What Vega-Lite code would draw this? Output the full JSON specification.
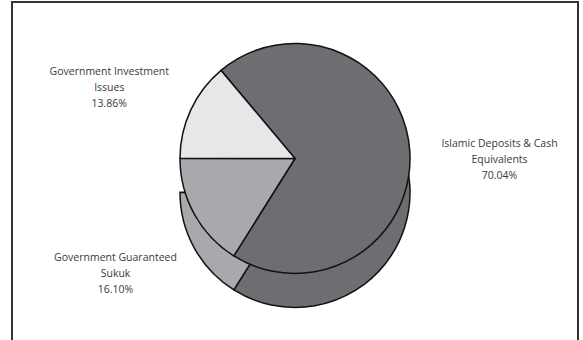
{
  "$schema": "https://vega.github.io/schema/vega-lite/v6.json",
  "width": 566,
  "height": 345,
  "padding": {"left": 12, "top": 2, "right": 5, "bottom": 0},
  "background": "white",
  "view": {"stroke": "#333333", "strokeWidth": 2, "fill": "white"},
  "config": {
    "view": {"stroke": "#333333", "strokeWidth": 2},
    "text": {"font": "Open Sans", "fontSize": 10.5, "fill": "#3a3a3a", "lineHeight": 16}
  },
  "data": {
    "values": [
      {"category": "Islamic Deposits & Cash Equivalents", "value": 70.04, "order": 1, "label": ["Islamic Deposits & Cash", "Equivalents", "70.04%"]},
      {"category": "Government Guaranteed Sukuk", "value": 16.10, "order": 2, "label": ["Government Guaranteed", "Sukuk", "16.10%"]},
      {"category": "Government Investment Issues", "value": 13.86, "order": 3, "label": ["Government Investment", "Issues", "13.86%"]}
    ]
  },
  "encoding": {
    "theta": {"field": "value", "type": "quantitative", "stack": true, "scale": {"range": [5.585, 11.868]}},
    "order": {"field": "order", "type": "quantitative"},
    "color": {
      "field": "category",
      "type": "nominal",
      "legend": null,
      "scale": {
        "domain": ["Islamic Deposits & Cash Equivalents", "Government Guaranteed Sukuk", "Government Investment Issues"],
        "range": ["#6d6e71", "#a7a9ac", "#e6e7e8"]
      }
    }
  },
  "layer": [
    {
      "transform": [{"filter": "datum.order < 3"}],
      "mark": {"type": "arc", "outerRadius": 115, "yOffset": 18, "stroke": "#111111", "strokeWidth": 1.5}
    },
    {"mark": {"type": "arc", "outerRadius": 115, "yOffset": -16, "stroke": "#111111", "strokeWidth": 1.5}},
    {
      "mark": {"type": "text", "radius": 205, "yOffset": -16, "align": "center", "baseline": "middle"},
      "encoding": {"text": {"field": "label"}, "color": {"value": "#3a3a3a"}}
    }
  ]
}
